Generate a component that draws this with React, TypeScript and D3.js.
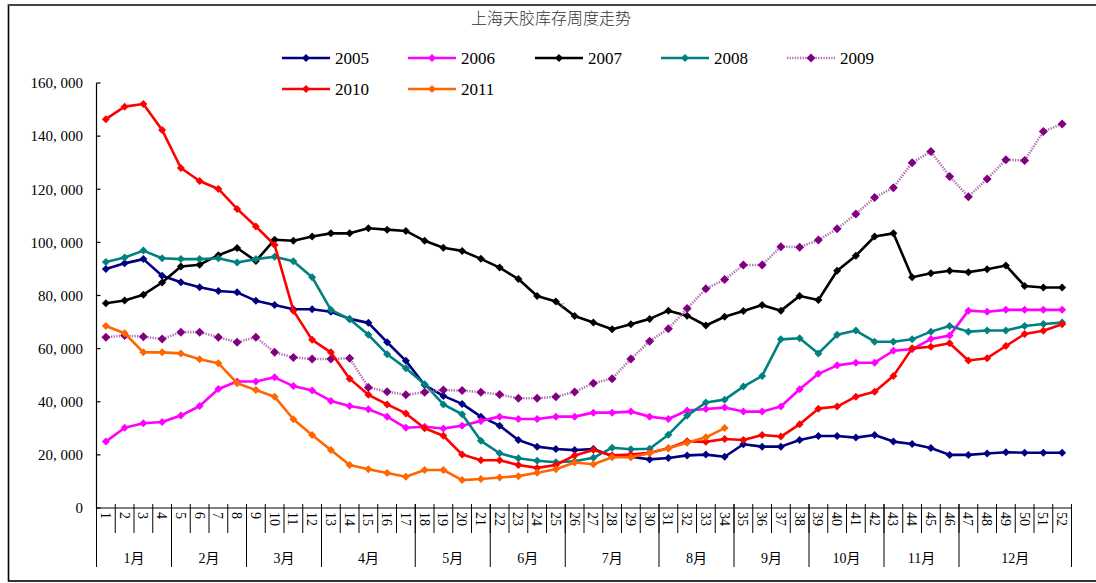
import React from "react";
import * as d3 from "d3";

const weeks: number[] = Array.from({ length: 52 }, (_, i) => i + 1);
const months = ["1月", "2月", "3月", "4月", "5月", "6月", "7月", "8月", "9月", "10月", "11月", "12月"];
const monthWeeks = [4, 4, 4, 5, 4, 4, 5, 4, 4, 4, 4, 6];
const yTicks = [0, 20000, 40000, 60000, 80000, 100000, 120000, 140000, 160000];

const s2005 = [90000, 92100, 93700, 87400, 85000, 83100, 81700, 81200, 78000, 76400, 74800, 74800, 73900, 71200, 69700, 62400, 55400, 46300, 42200, 39200, 34400, 31000, 25600, 23100, 22200, 21800, 22200, 19600, 19300, 18300, 18800, 19800, 20100, 19300, 24000, 23100, 23100, 25600, 27100, 27100, 26500, 27500, 25000, 24100, 22600, 20000, 20000, 20500, 21000, 20800, 20800, 20800];
const s2006 = [25000, 30200, 31900, 32400, 34800, 38400, 44800, 47600, 47600, 49200, 45900, 44200, 40300, 38400, 37200, 34400, 30200, 30600, 29900, 31000, 32800, 34400, 33500, 33500, 34400, 34400, 35900, 35900, 36300, 34400, 33500, 36700, 37300, 37800, 36300, 36300, 38200, 44700, 50500, 53700, 54700, 54700, 59200, 59800, 63600, 64900, 74300, 73900, 74600, 74600, 74600, 74600];
const s2007 = [77100, 78100, 80300, 84900, 90900, 91600, 95200, 97900, 93000, 101000, 100600, 102200, 103400, 103400, 105300, 104800, 104300, 100600, 98000, 96800, 93800, 90500, 86200, 79800, 77700, 72300, 69800, 67300, 69200, 71200, 74300, 72400, 68700, 72000, 74200, 76400, 74300, 79800, 78300, 89300, 95000, 102200, 103400, 86900, 88400, 89300, 88800, 89900, 91300, 83600, 83000, 83000];
const s2008 = [92600, 94300, 96900, 94000, 93700, 93700, 94000, 92400, 93700, 94600, 92900, 86900, 74600, 71100, 65200, 57900, 52600, 46600, 39000, 35300, 25300, 20600, 18700, 17800, 17200, 17600, 18900, 22700, 22100, 22300, 27600, 34800, 39700, 40800, 45700, 49700, 63500, 63900, 58200, 65200, 66800, 62600, 62600, 63500, 66400, 68500, 66400, 66800, 66800, 68500, 69300, 69800];
const s2009 = [64300, 64900, 64500, 63600, 66200, 66200, 64300, 62400, 64300, 58600, 56700, 56100, 56100, 56400, 45400, 43800, 42600, 43600, 44400, 44200, 43600, 42700, 41300, 41300, 41900, 43700, 47000, 48700, 56100, 62800, 67500, 75100, 82500, 86000, 91500, 91500, 98400, 98200, 100900, 105100, 110700, 116900, 120600, 130000, 134200, 124800, 117200, 123900, 131100, 130800, 141700, 144600];
const s2010 = [146400, 151100, 152100, 142300, 128000, 123100, 120100, 112600, 106000, 99000, 74300, 63300, 58600, 48700, 42600, 39000, 35600, 30000, 27200, 20100, 18000, 18000, 16200, 15100, 16200, 19800, 21800, 19800, 20100, 20800, 22500, 25100, 24900, 26000, 25600, 27500, 26900, 31500, 37400, 38200, 41900, 43800, 49700, 60100, 60700, 62000, 55500, 56400, 61000, 65500, 66700, 69200];
const s2011 = [68500, 65800, 58600, 58600, 58200, 56000, 54500, 47000, 44400, 41900, 33400, 27500, 21800, 16200, 14600, 13200, 11800, 14300, 14300, 10500, 10900, 11500, 12000, 13300, 14600, 17100, 16500, 19100, 19100, 20600, 22500, 24600, 26600, 30100];

const seriesNames = ["2005", "2006", "2007", "2008", "2009", "2010", "2011"];
const seriesData = [s2005, s2006, s2007, s2008, s2009, s2010, s2011];
const colors = ["#000080", "#FF00FF", "#000000", "#008080", "#800080", "#FF0000", "#FF6600"];

const latin = "'Liberation Serif', 'DejaVu Serif', serif";
const cjk = "'Liberation Serif', 'Noto Sans CJK SC', serif";

const diamond = (r: number) => `M0,${-r}L${r},0L0,${r}L${-r},0Z`;

export default function App() {
  const left = 96.5, right = 1071.5, top = 83, bottom = 508;
  const x = d3.scaleBand<number>().domain(weeks).range([left, right]).padding(0);
  const bw = x.bandwidth();
  const cx = (w: number) => (x(w) as number) + bw / 2;
  const y = d3.scaleLinear().domain([0, 160000]).range([bottom, top]);
  const line = d3.line<number>().x((_, i) => cx(i + 1)).y((d) => y(d));

  const fmt = (v: number) => d3.format(",")(v).replace(",", ", ");

  const bounds: number[] = [0];
  monthWeeks.forEach((n) => bounds.push(bounds[bounds.length - 1] + n));

  const legendPos = [
    [282, 58], [408, 58], [535, 58], [661, 58], [787, 58],
    [282, 89], [408, 89],
  ];

  const seriesStyle = (i: number) =>
    i === 4
      ? { stroke: "#b070b0", strokeWidth: 2.6, strokeDasharray: "1.3 1.3" }
      : { stroke: colors[i], strokeWidth: 2.6 };

  return (
    <svg width={1096} height={583} style={{ position: "absolute", left: 0, top: 0, background: "#fff" }}>
      <rect x={8.5} y={5} width={1120} height={576} fill="#fff" stroke="#000" strokeWidth={1.6} />
      <line x1={8} x2={1096} y1={5} y2={5} stroke="#444" strokeWidth={2} />
      <text x={551} y={24} textAnchor="middle" fontSize={16} fontFamily="'Noto Sans CJK SC', sans-serif" fill="#333" fontWeight={300}>
        上海天胶库存周度走势
      </text>

      {/* y axis */}
      <line x1={left} x2={left} y1={top} y2={bottom} stroke="#000" strokeWidth={1.2} />
      {yTicks.map((t) => (
        <g key={t}>
          <line x1={left} x2={left + 4} y1={y(t)} y2={y(t)} stroke="#000" strokeWidth={1.2} />
          <text x={83} y={y(t)} dy="0.35em" textAnchor="end" fontSize={15} fontFamily={latin} fill="#000">
            {t === 0 ? "0" : fmt(t)}
          </text>
        </g>
      ))}

      {/* x axis */}
      <line x1={left} x2={right} y1={bottom} y2={bottom} stroke="#000" strokeWidth={1.2} />
      {weeks.map((w) => (
        <g key={w}>
          <line x1={(x(w) as number) + bw} x2={(x(w) as number) + bw} y1={504} y2={533} stroke="#000" strokeWidth={1} />
          <text transform={`translate(${cx(w)},512) rotate(90)`} dy="0.35em" textAnchor="start" fontSize={14} fontFamily={latin} fill="#000">
            {w}
          </text>
        </g>
      ))}
      {bounds.map((b, i) => {
        const xx = i === 0 ? left : (x(b) as number) + bw;
        return <line key={"b" + i} x1={xx} x2={xx} y1={504} y2={567} stroke="#000" strokeWidth={1} />;
      })}
      {months.map((m, i) => {
        const x0 = i === 0 ? left : (x(bounds[i]) as number) + bw;
        const x1 = (x(bounds[i + 1]) as number) + bw;
        return (
          <text key={m} x={(x0 + x1) / 2} y={558} dy="0.35em" textAnchor="middle" fontSize={14} fontFamily={cjk} fill="#000">
            {m}
          </text>
        );
      })}

      {/* series */}
      {seriesData.map((data, i) => (
        <g key={seriesNames[i]}>
          <path d={line(data) as string} fill="none" {...seriesStyle(i)} strokeLinejoin="round" />
          {data.map((v, j) => (
            <path key={j} d={diamond(i === 4 ? 4.5 : 4)} transform={`translate(${cx(j + 1)},${y(v)})`} fill={colors[i]} />
          ))}
        </g>
      ))}

      <text x={561} y={307} fontSize={9} fontFamily={latin} fill="#666">c</text>

      {/* legend */}
      {seriesNames.map((n, i) => {
        const [lx, ly] = legendPos[i];
        return (
          <g key={"lg" + n}>
            <line x1={lx} x2={lx + 48} y1={ly} y2={ly} {...seriesStyle(i)} />
            <path d={diamond(i === 4 ? 4.5 : 4)} transform={`translate(${lx + 24},${ly})`} fill={colors[i]} />
            <text x={lx + 53} y={ly} dy="0.35em" fontSize={17} fontFamily={latin} fill="#000">
              {n}
            </text>
          </g>
        );
      })}
    </svg>
  );
}
